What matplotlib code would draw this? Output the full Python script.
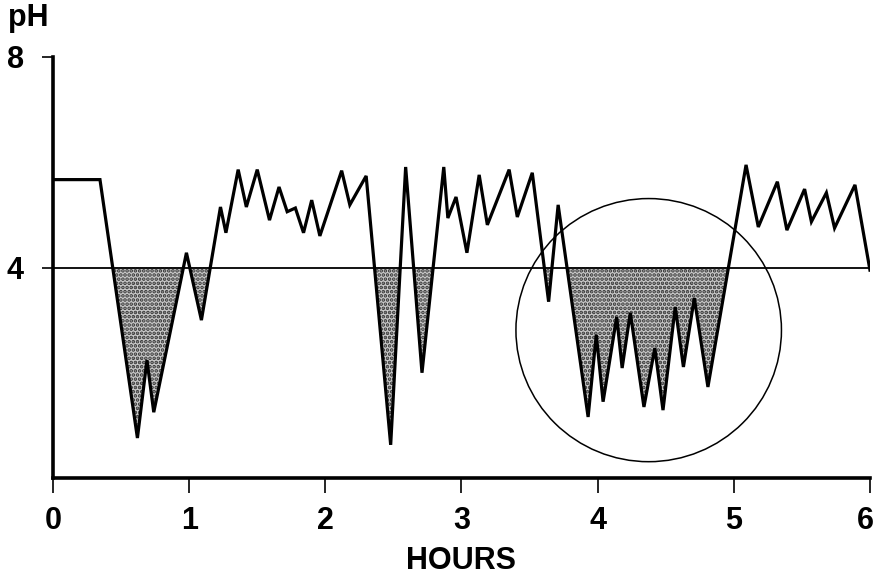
import matplotlib
matplotlib.use('Agg')
import matplotlib.pyplot as plt
import matplotlib.transforms as mtransforms
from matplotlib.patches import Ellipse
import numpy as np

plt.rcParams['font.family'] = ['Liberation Sans', 'DejaVu Sans']
plt.rcParams['hatch.linewidth'] = 1.8

# pH trace (hours, pH)
hours = [0.0, 0.345, 0.62, 0.69, 0.74, 0.98, 1.09, 1.23, 1.27, 1.36, 1.42, 1.50,
         1.59, 1.66, 1.72, 1.78, 1.84, 1.90, 1.96, 2.12, 2.18, 2.30, 2.48, 2.59,
         2.71, 2.87, 2.90, 2.96, 3.04, 3.13, 3.19, 3.35, 3.41, 3.52, 3.64, 3.71,
         3.93, 3.99, 4.04, 4.14, 4.18, 4.24, 4.34, 4.42, 4.48, 4.57, 4.63, 4.71,
         4.81, 5.09, 5.18, 5.32, 5.39, 5.52, 5.57, 5.68, 5.74, 5.89, 6.0]
ph = [5.67, 5.67, 0.76, 2.24, 1.25, 4.28, 3.0, 5.15, 4.66, 5.86, 5.15, 5.86,
      4.9, 5.53, 5.06, 5.13, 4.66, 5.28, 4.6, 5.84, 5.19, 5.74, 0.63, 5.91,
      2.0, 5.91, 4.94, 5.34, 4.28, 5.76, 4.81, 5.86, 4.96, 5.80, 3.35, 5.19,
      1.16, 2.72, 1.45, 3.06, 2.09, 3.14, 1.35, 2.47, 1.29, 3.25, 2.11, 3.42,
      1.73, 5.95, 4.77, 5.63, 4.71, 5.49, 4.87, 5.42, 4.75, 5.57, 3.95]

threshold = 4
x_ticks = [0, 1, 2, 3, 4, 5, 6]
y_ticks = [4, 8]

# circled region (center hours, center pH, width hours, height pH)
circle_center = (4.375, 2.81)
circle_w = 1.95
circle_h = 5.0

fig = plt.figure(figsize=(8.76, 5.84), dpi=100)
ax = fig.add_axes([0.0605, 0.1815, 0.9326, 0.7209])

x = np.array(hours)
y = np.array(ph)

ax.fill_between(x, y, threshold, where=y < threshold, interpolate=True,
                facecolor='#c8c8c8', edgecolor='#333333', hatch='....', linewidth=0)
ax.axhline(threshold, color='black', linewidth=1.3, zorder=2)
ax.plot(x, y, color='black', linewidth=2.3, zorder=3, solid_joinstyle='miter')

ax.add_patch(Ellipse(circle_center, circle_w, circle_h, fill=False,
                     edgecolor='black', linewidth=1.1, zorder=4))

ax.set_xlim(0, 6)
ax.set_ylim(0, 8)
ax.spines['top'].set_visible(False)
ax.spines['right'].set_visible(False)
ax.spines['left'].set_linewidth(2.6)
ax.spines['bottom'].set_linewidth(2.6)
ax.spines['left'].set_bounds(0, 8)

ax.set_xticks(x_ticks)
ax.set_xticklabels([str(t) for t in x_ticks], fontsize=22, fontweight='bold')
ax.set_yticks(y_ticks)
ax.set_yticklabels([str(t) for t in y_ticks], fontsize=22, fontweight='bold')
ax.tick_params(axis='x', length=11, width=1.2, pad=9)
ax.tick_params(axis='y', length=8, width=1.2, pad=13)

# nudge the last hour label so it stays inside the picture
last = ax.get_xticklabels()[-1]
last.set_transform(last.get_transform() +
                   mtransforms.ScaledTranslation(-5 / 100, 0, fig.dpi_scale_trans))

ax.set_xlabel('HOURS', fontsize=22, fontweight='bold', labelpad=7)
fig.text(0.009, 0.995, 'pH', fontsize=22, fontweight='bold', va='top', ha='left')

plt.savefig('out.png', dpi=100)
